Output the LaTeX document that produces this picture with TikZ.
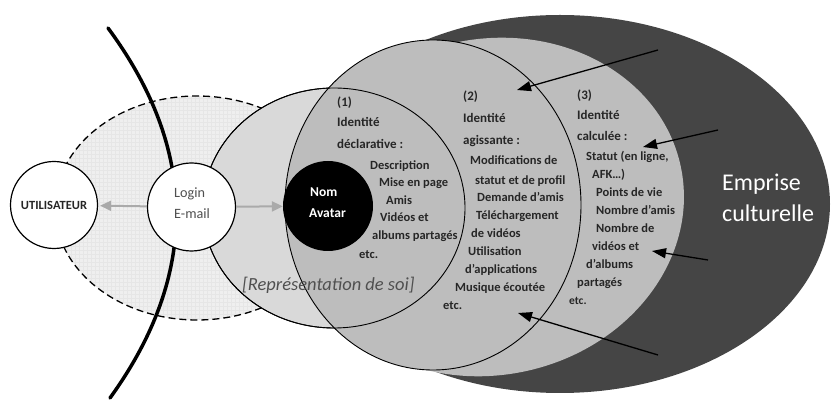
\documentclass[tikz,border=0pt]{standalone}
\usepackage{fontspec}
\setmainfont{Carlito}
\usetikzlibrary{arrows.meta}
\definecolor{darkell}{HTML}{454545}
\definecolor{midgray}{HTML}{BDBDBD}
\definecolor{repgray}{HTML}{D9D9D9}
\definecolor{dashgray}{HTML}{EFEFEF}
\definecolor{gridgray}{HTML}{E6E6E6}
\definecolor{txt}{HTML}{262626}
\definecolor{softtxt}{HTML}{505050}
\definecolor{arrgray}{HTML}{AAAAAA}
\tikzset{
  outl/.style={draw=black, line width=0.9pt},
  lst/.style={font=\bfseries\fontsize{12.5}{14}\selectfont, text=txt, inner sep=0pt, anchor=west, text height=9pt, text depth=3pt},
  hd/.style={font=\bfseries\fontsize{13}{15}\selectfont, text=txt, inner sep=0pt, anchor=west, text height=9pt, text depth=3pt},
  disc/.style={circle, draw=black, line width=1.2pt, fill=white, inner sep=0pt},
  grayarrow/.style={draw=arrgray, line width=2pt, -{Triangle[length=11pt,width=10pt]}},
  blackarrow/.style={draw=black, line width=1.3pt, -{Triangle[length=14pt,width=10pt]}},
}
\begin{document}
\begin{tikzpicture}[x=1pt,y=-1pt]
\useasboundingbox (0,0) rectangle (831,403);
% dashed outer zone
\fill[dashgray] (197,208) ellipse [x radius=142pt, y radius=112pt];
\begin{scope}
  \clip (197,208) ellipse [x radius=142pt, y radius=112pt];
  \foreach \gx in {55,59,...,340} {\draw[gridgray, line width=0.3pt] (\gx,90) -- (\gx,325);}
  \foreach \gy in {94,98,...,325} {\draw[gridgray, line width=0.3pt] (50,\gy) -- (345,\gy);}
\end{scope}
\draw[line width=1.3pt, dash pattern=on 7pt off 4pt] (197,208) ellipse [x radius=142pt, y radius=112pt];
% thick black curve
\draw[line width=3.5pt, line cap=round] (108,28) .. controls (198.7,150.7) and (198.7,275.3) .. (110,398);
% emprise culturelle
\fill[darkell] (560,204) ellipse [x radius=270pt, y radius=189pt];
% identity (3)
\fill[midgray, rotate around={12:(490,207)}] (490,207) ellipse [x radius=195pt, y radius=168pt];
% representation de soi
\filldraw[fill=repgray, outl] (334,208) ellipse [x radius=131pt, y radius=120pt];
% identity (2)
\filldraw[fill=midgray, outl] (433,205) ellipse [x radius=148pt, y radius=165pt];
% representation outline again (boundary of (1))
\draw[outl] (334,208) ellipse [x radius=131pt, y radius=120pt];

% nodes
\node[disc, minimum size=87pt, font=\bfseries\fontsize{12.5}{14}\selectfont, text=txt] (user) at (54,205) {UTILISATEUR};
\node[disc, minimum size=88pt] (login) at (191.5,207) {};
\node[font=\fontsize{14.2}{21}\selectfont, text=softtxt, align=left, inner sep=0pt, anchor=west] (loginlbl) at (174,203) {Login\\E-mail};
\node[circle, fill=black, minimum size=90pt, inner sep=0pt] (avatar) at (328,206) {};
\node[font=\bfseries\fontsize{13.5}{21}\selectfont, text=white, align=left, inner sep=0pt, anchor=west] (avatarlbl) at (309,203) {\hspace*{1pt}Nom\\Avatar};

\draw[grayarrow, shorten >=2pt] (login) -- (user);
\draw[grayarrow] (login) -- (avatar);

% representation label
\node[font=\itshape\fontsize{18.5}{20}\selectfont, text=softtxt, inner sep=0pt, anchor=west] (replbl) at (242,285) {[Représentation de soi]};

% (1)
\node[hd] (h1a) at (337,104) {(1)};
\node[hd] (h1b) at (337,124) {Identité};
\node[hd] (h1c) at (337,146) {déclarative :};
\node[lst] (l1a) at (370,167) {Description};
\node[lst] (l1b) at (379,184) {Mise en page};
\node[lst] (l1c) at (386,202) {Amis};
\node[lst] (l1d) at (380,219) {Vidéos et};
\node[lst] (l1e) at (372,237) {albums partagés};
\node[lst] (l1f) at (359,256) {etc.};

% (2)
\node[hd] (h2a) at (463,98) {(2)};
\node[hd] (h2b) at (463,120) {Identité};
\node[hd] (h2c) at (463,142) {agissante :};
\node[lst] (l2a) at (470,162) {Modifications de};
\node[lst] (l2b) at (475,182) {statut et de profil};
\node[lst] (l2c) at (477,199) {Demande d’amis};
\node[lst] (l2d) at (476,217) {Téléchargement};
\node[lst] (l2e) at (471,235) {de vidéos};
\node[lst] (l2f) at (468,253) {Utilisation};
\node[lst] (l2g) at (465,271) {d’applications};
\node[lst] (l2h) at (455,289) {Musique écoutée};
\node[lst] (l2i) at (443,307) {etc.};

% (3)
\node[hd] (h3a) at (577,97) {(3)};
\node[hd] (h3b) at (577,117) {Identité};
\node[hd] (h3c) at (577,138) {calculée :};
\node[lst] (l3a) at (586,158) {Statut (en ligne,};
\node[lst] (l3b) at (592,176) {AFK…)};
\node[lst] (l3c) at (596,194) {Points de vie};
\node[lst] (l3d) at (596,212) {Nombre d’amis};
\node[lst] (l3e) at (596,230) {Nombre de};
\node[lst] (l3f) at (592,248) {vidéos et};
\node[lst] (l3g) at (586,266) {d’albums};
\node[lst] (l3h) at (577,284) {partagés};
\node[lst, font=\bfseries\fontsize{11.5}{14}\selectfont] (l3i) at (569,302) {etc.};

% emprise culturelle
\node[font=\fontsize{24}{31}\selectfont, text=white, align=left, inner sep=0pt, anchor=west] (emprise) at (722,198) {Emprise\\culturelle};

% black arrows
\coordinate (a1s) at (658,50);  \coordinate (a1e) at (517,90);
\coordinate (a2s) at (718,130); \coordinate (a2e) at (643,147);
\coordinate (a3s) at (708,260); \coordinate (a3e) at (652,251);
\coordinate (a4s) at (658,355); \coordinate (a4e) at (518,313);
\draw[blackarrow] (a1s) -- (a1e);
\draw[blackarrow] (a2s) -- (a2e);
\draw[blackarrow] (a3s) -- (a3e);
\draw[blackarrow] (a4s) -- (a4e);
\end{tikzpicture}
\end{document}
